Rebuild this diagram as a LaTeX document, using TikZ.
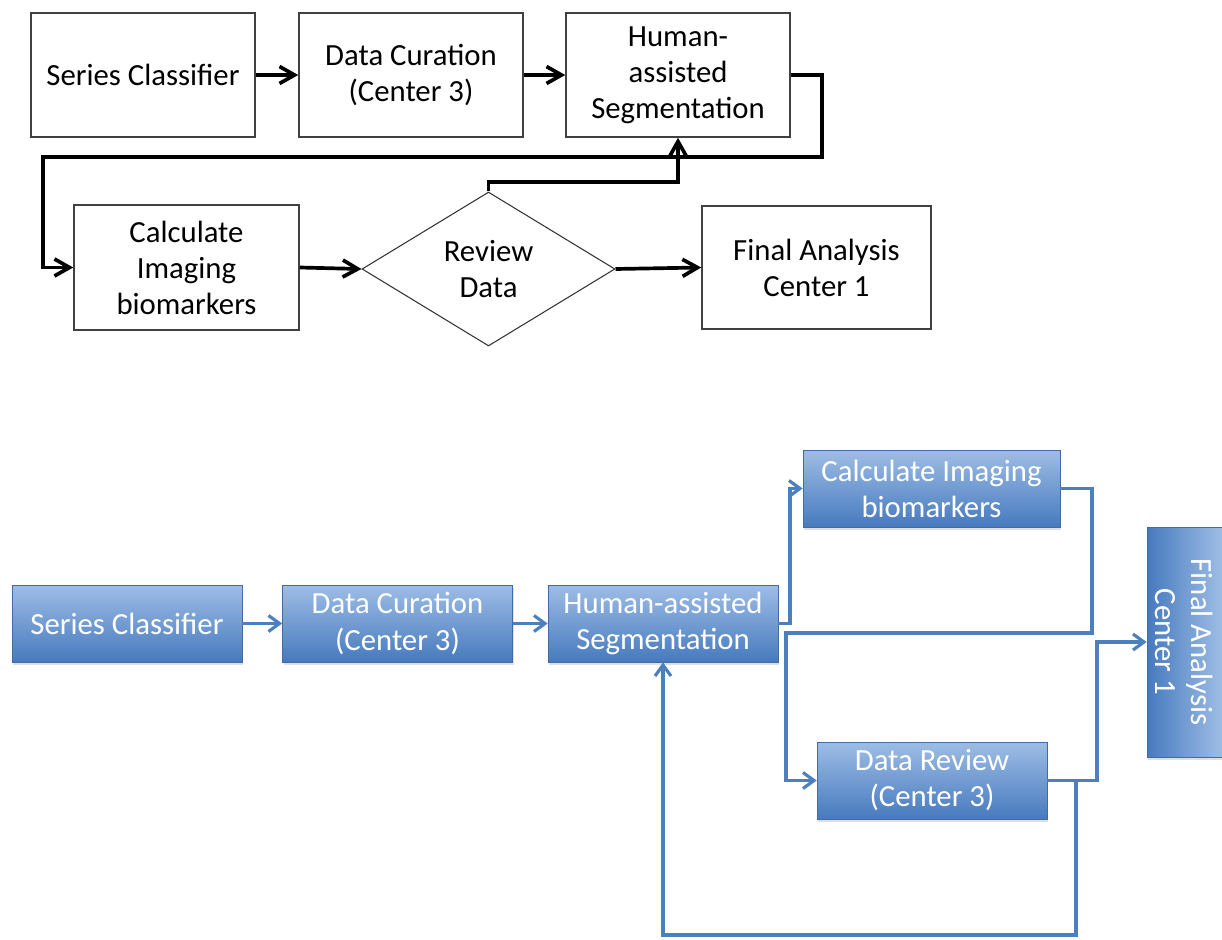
\documentclass[tikz,border=0pt]{standalone}
\usepackage{fontspec}
\setmainfont{Carlito}
\usetikzlibrary{shapes.geometric,arrows.meta,shadows}

\definecolor{boxtop}{RGB}{158,189,229}
\definecolor{boxbottom}{RGB}{70,122,190}
\definecolor{flowblue}{RGB}{76,127,190}

\newcommand{\labelfont}{\fontsize{17.5}{20.5}\selectfont}

\tikzset{
  box/.style={draw=black!75, line width=0.9pt, fill=white, minimum width=4.48cm,
    minimum height=2.48cm, align=center, font=\labelfont},
  choice/.style={diamond, draw=black!80, line width=0.6pt, aspect=1.64,
    minimum width=5.06cm, minimum height=3.08cm, inner sep=0pt, align=center, font=\labelfont},
  bluebox/.style={draw=flowblue!85!black, line width=0.4pt, top color=boxtop,
    bottom color=boxbottom, text=white, minimum width=4.6cm, minimum height=1.54cm,
    align=center, font=\labelfont,
    drop shadow={shadow xshift=0.8pt, shadow yshift=-1.5pt, opacity=0.25}},
  flow/.style={line width=2.1pt, -{Straight Barb[length=3mm,width=3.4mm]}},
  blueflow/.style={draw=flowblue, line width=1.8pt, -{Straight Barb[length=2.2mm,width=3.2mm]}}
}

\begin{document}
\begin{tikzpicture}[x=0.02cm,y=-0.02cm]

  \useasboundingbox (0,0) rectangle (1222,939);

  % first workflow
  \node[box] (sc1)  at (143,75)    {Series Classifier};
  \node[box] (dc1)  at (411,75)    {Data Curation\\(Center 3)};
  \node[box] (hs1)  at (678,75)    {Human-\\assisted\\Segmentation};
  \node[box, minimum width=4.5cm, minimum height=2.5cm] (calc1) at (186.5,267.5) {Calculate\\Imaging\\biomarkers};
  \node[choice] (rev1) at (488.5,269) {Review\\Data};
  \node[box, minimum width=4.58cm, minimum height=2.46cm] (fin1) at (816.5,267.5) {Final Analysis\\Center 1};

  \coordinate (topturn)  at (822,157);
  \coordinate (leftturn) at (43,157);
  \coordinate (revturn)  at (600,182);

  \draw[flow] (sc1.east) -- (dc1.west);
  \draw[flow] (dc1.east) -- (hs1.west);
  \draw[flow] (hs1.east) -| (topturn) -- (leftturn) |- (calc1.west);
  \draw[flow] (calc1.east) -- (rev1.west);
  \draw[flow] (rev1.north) |- (revturn) -| (hs1.south);
  \draw[flow] (rev1.east) -- (fin1.west);

  % second workflow
  \node[bluebox] (sc2)  at (127,623.5) {Series Classifier};
  \node[bluebox] (dc2)  at (397.5,623.5) {Data Curation\\(Center 3)};
  \node[bluebox] (hs2)  at (663,623.5) {Human-assisted\\Segmentation};
  \node[bluebox, minimum width=5.14cm] (calc2) at (931.5,488.5) {Calculate Imaging\\biomarkers};
  \node[bluebox] (dr2)  at (932,780.5) {Data Review\\(Center 3)};
  \node[bluebox, rotate=-90, left color=boxbottom, right color=boxtop, minimum width=4.6cm, minimum height=1.5cm] (fin2) at (1184.5,642) {Final Analysis\\Center 1};

  \coordinate (upturn)      at (790,560);
  \coordinate (calcturn)    at (1092,633);
  \coordinate (reviewturn)  at (786,633);
  \coordinate (finalturn)   at (1097,700);
  \coordinate (loopstart)   at (1076,780.5);
  \coordinate (loopturn)    at (1076,935);

  \draw[blueflow] (sc2.east) -- (dc2.west);
  \draw[blueflow] (dc2.east) -- (hs2.west);
  \draw[blueflow] (hs2.east) -| (upturn) |- (calc2.west);
  \draw[blueflow] (calc2.east) -| (calcturn) -- (reviewturn) |- (dr2.west);
  \draw[blueflow] (dr2.east) -| (finalturn) |- (fin2.south);
  \draw[blueflow] (loopstart) -- (loopturn) -| (hs2.south);

\end{tikzpicture}
\end{document}
